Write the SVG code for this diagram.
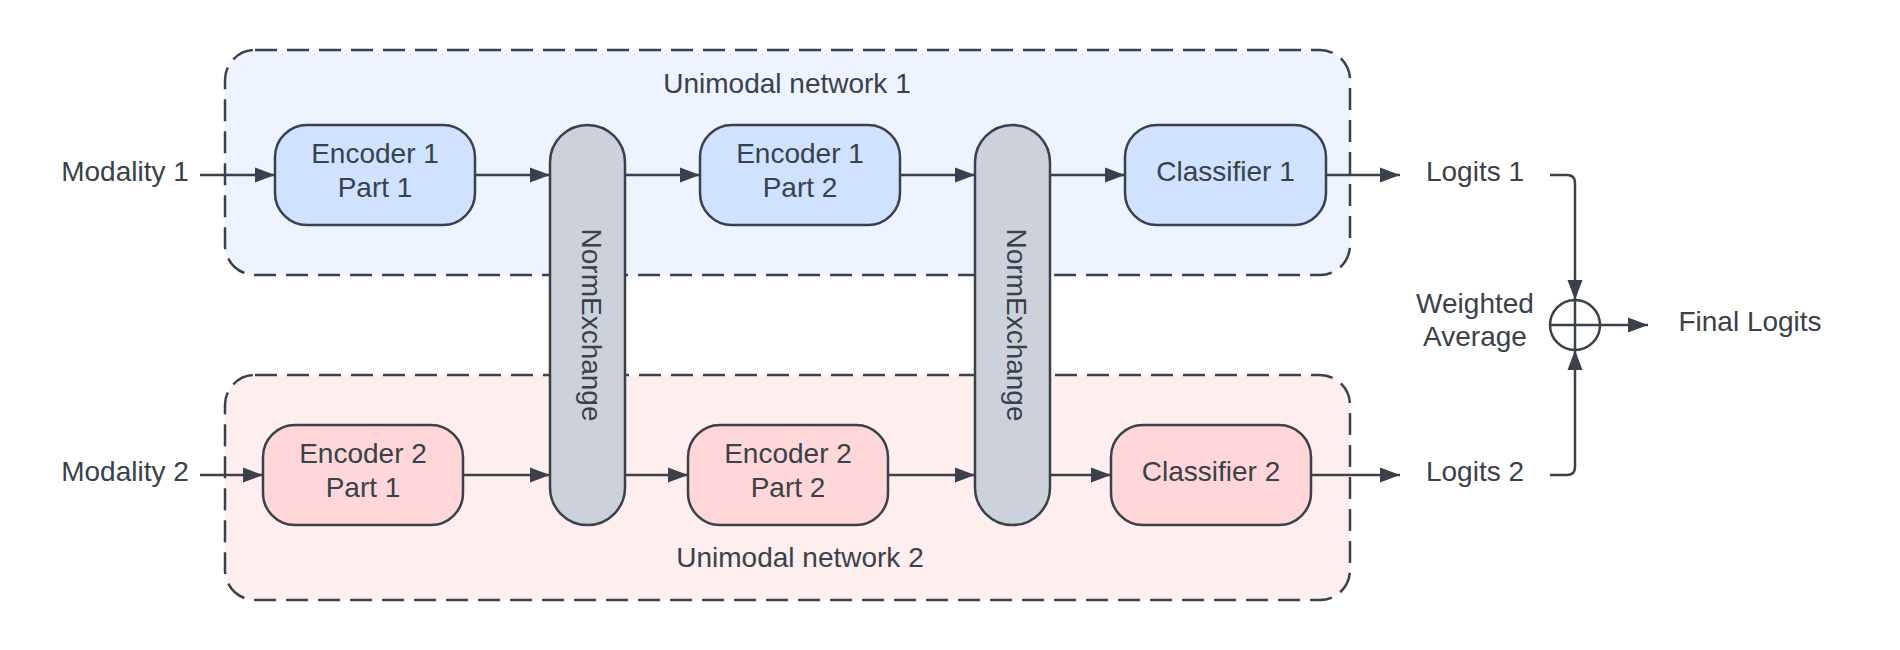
<svg xmlns="http://www.w3.org/2000/svg" width="1900" height="650" viewBox="0 0 1900 650">
  <style>
    text { font-family: "Liberation Sans", Arial, sans-serif; font-size: 28px; fill: #3a414a; text-anchor: middle; }
    .grp { stroke: #3a414a; stroke-width: 2.5; stroke-dasharray: 22 10; }
    .g1 { fill: #edf4ff; }
    .g2 { fill: #ffeeee; }
    .node { stroke: #3a414a; stroke-width: 2.5; }
    .blue { fill: #cfe2ff; }
    .red { fill: #ffd7d8; }
    .gray { fill: #cdd2da; }
    .conn { fill: none; stroke: #3a414a; stroke-width: 2.5; }
  </style>
  <defs>
    <marker id="arr" markerUnits="userSpaceOnUse" markerWidth="22" markerHeight="16" refX="20" refY="8" orient="auto">
      <path d="M0,0.5 L20,8 L0,15.5 Z" fill="#3a414a"/>
    </marker>
  </defs>
  <rect width="1900" height="650" fill="#ffffff"/>

  <g id="group1">
    <rect class="grp g1" x="225" y="50" width="1125" height="225" rx="30"/>
    <text x="787" y="93">Unimodal network 1</text>
  </g>
  <g id="group2">
    <rect class="grp g2" x="225" y="375" width="1125" height="225" rx="30"/>
    <text x="800" y="567">Unimodal network 2</text>
  </g>

  <g id="connectors">
    <line class="conn" x1="200" y1="175" x2="275" y2="175" marker-end="url(#arr)"/>
    <line class="conn" x1="475" y1="175" x2="550" y2="175" marker-end="url(#arr)"/>
    <line class="conn" x1="625" y1="175" x2="700" y2="175" marker-end="url(#arr)"/>
    <line class="conn" x1="900" y1="175" x2="975" y2="175" marker-end="url(#arr)"/>
    <line class="conn" x1="1050" y1="175" x2="1125" y2="175" marker-end="url(#arr)"/>
    <line class="conn" x1="1326" y1="175" x2="1400" y2="175" marker-end="url(#arr)"/>
    <line class="conn" x1="200" y1="475" x2="263" y2="475" marker-end="url(#arr)"/>
    <line class="conn" x1="463" y1="475" x2="550" y2="475" marker-end="url(#arr)"/>
    <line class="conn" x1="625" y1="475" x2="688" y2="475" marker-end="url(#arr)"/>
    <line class="conn" x1="888" y1="475" x2="975" y2="475" marker-end="url(#arr)"/>
    <line class="conn" x1="1050" y1="475" x2="1111" y2="475" marker-end="url(#arr)"/>
    <line class="conn" x1="1311" y1="475" x2="1400" y2="475" marker-end="url(#arr)"/>
    <path class="conn" d="M1550,175 H1567 Q1575,175 1575,183 V300" marker-end="url(#arr)"/>
    <path class="conn" d="M1550,475 H1567 Q1575,475 1575,467 V350" marker-end="url(#arr)"/>
    <line class="conn" x1="1600" y1="325" x2="1648" y2="325" marker-end="url(#arr)"/>
  </g>

  <g id="modality1"><text x="125" y="181">Modality 1</text></g>
  <g id="modality2"><text x="125" y="481">Modality 2</text></g>

  <g id="enc1p1">
    <rect class="node blue" x="275" y="125" width="200" height="100" rx="32"/>
    <text x="375" y="163">Encoder 1</text>
    <text x="375" y="197">Part 1</text>
  </g>
  <g id="enc1p2">
    <rect class="node blue" x="700" y="125" width="200" height="100" rx="32"/>
    <text x="800" y="163">Encoder 1</text>
    <text x="800" y="197">Part 2</text>
  </g>
  <g id="cls1">
    <rect class="node blue" x="1125" y="125" width="201" height="100" rx="32"/>
    <text x="1225.5" y="181">Classifier 1</text>
  </g>

  <g id="enc2p1">
    <rect class="node red" x="263" y="425" width="200" height="100" rx="32"/>
    <text x="363" y="463">Encoder 2</text>
    <text x="363" y="497">Part 1</text>
  </g>
  <g id="enc2p2">
    <rect class="node red" x="688" y="425" width="200" height="100" rx="32"/>
    <text x="788" y="463">Encoder 2</text>
    <text x="788" y="497">Part 2</text>
  </g>
  <g id="cls2">
    <rect class="node red" x="1111" y="425" width="200" height="100" rx="32"/>
    <text x="1211" y="481">Classifier 2</text>
  </g>

  <g id="normexchange1">
    <rect class="node gray" x="550" y="125" width="75" height="400" rx="37.5"/>
    <text transform="translate(587.5,325) rotate(90)" x="0" y="6">NormExchange</text>
  </g>
  <g id="normexchange2">
    <rect class="node gray" x="975" y="125" width="75" height="400" rx="37.5"/>
    <text transform="translate(1012.5,325) rotate(90)" x="0" y="6">NormExchange</text>
  </g>

  <g id="logits1"><text x="1475" y="181">Logits 1</text></g>
  <g id="logits2"><text x="1475" y="481">Logits 2</text></g>

  <g id="sum">
    <circle cx="1575" cy="325" r="25" fill="#ffffff" stroke="#3a414a" stroke-width="2.5"/>
    <line x1="1550" y1="325" x2="1600" y2="325" stroke="#3a414a" stroke-width="2.5"/>
    <line x1="1575" y1="300" x2="1575" y2="350" stroke="#3a414a" stroke-width="2.5"/>
  </g>
  <g id="weighted"><text x="1475" y="313">Weighted</text><text x="1475" y="346">Average</text></g>
  <g id="final"><text x="1750" y="331">Final Logits</text></g>
</svg>
